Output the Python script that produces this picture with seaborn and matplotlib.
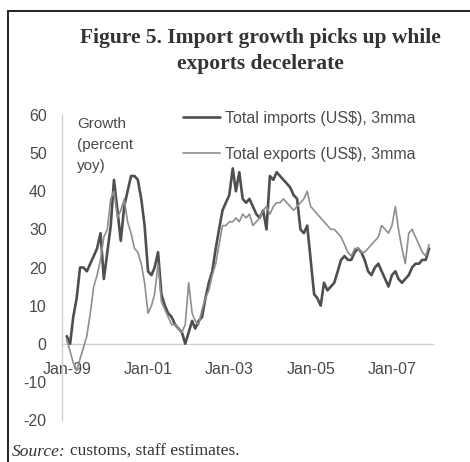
import matplotlib
matplotlib.use("Agg")
import matplotlib.pyplot as plt
from matplotlib.patches import Rectangle
import numpy as np
import pandas as pd
import seaborn as sns

# Monthly year-on-year growth, 3-month moving averages, Jan-1999 .. Dec-2007
imports_growth = [
    2, 0, 7, 12, 20, 20, 19, 21, 23, 25, 29, 17,
    24, 31, 43, 35, 27, 36, 40, 44, 44, 43, 38, 31,
    19, 18, 20, 24, 13, 10, 8, 7, 5, 4, 3, 0,
    3, 6, 4, 6, 7, 12, 16, 19, 25, 30, 35, 37,
    39, 46, 40, 45, 38, 37, 38, 36, 34, 33, 35, 30,
    44, 43, 45, 44, 43, 42, 41, 39, 38, 30, 29, 31,
    22, 13, 12, 10, 16, 14, 15, 16, 19, 22, 23, 22,
    22, 24, 25, 24, 22, 19, 18, 20, 21, 19, 17, 15,
    18, 19, 17, 16, 17, 18, 20, 21, 21, 22, 22, 25,
]
exports_growth = [
    1, -2, -5, -7, -4, -1, 2, 8, 15, 18, 22, 28,
    30, 38, 40, 33, 35, 38, 32, 29, 25, 24, 21, 16,
    8, 10, 13, 21, 11, 9, 7, 5, 5, 4, 3, 5,
    16, 8, 6, 5, 9, 12, 14, 18, 21, 26, 31, 31,
    32, 32, 33, 32, 34, 33, 34, 31, 32, 33, 35, 36,
    34, 36, 37, 37, 38, 37, 36, 35, 36, 37, 38, 40,
    36, 35, 34, 33, 32, 31, 30, 30, 29, 28, 26, 24,
    23, 25, 25, 24, 24, 25, 26, 27, 28, 31, 30, 29,
    31, 36, 30, 25, 21, 29, 30, 28, 26, 24, 23, 26,
]
months = pd.date_range("1999-01-01", periods=len(imports_growth), freq="MS")

tick_dates = pd.to_datetime(["1999-01-01", "2001-01-01", "2003-01-01",
                             "2005-01-01", "2007-01-01"])
tick_labels = ["Jan-99", "Jan-01", "Jan-03", "Jan-05", "Jan-07"]
y_ticks = [-20, -10, 0, 10, 20, 30, 40, 50, 60]

series_names = ["Total imports (US$), 3mma", "Total exports (US$), 3mma"]

df = pd.DataFrame({
    "month": np.concatenate([months, months]),
    "growth": imports_growth + exports_growth,
    "series": [series_names[0]] * len(months) + [series_names[1]] * len(months),
})

sns.set_style("white")
plt.rcParams["font.family"] = ["Liberation Sans", "DejaVu Sans"]

fig = plt.figure(figsize=(4.70, 4.62), dpi=100)
ax = fig.add_axes([62 / 470, 1 - 420 / 462, (433 - 62) / 470, (420 - 115) / 462])

text_col = "#4a4a4a"
imp_col = "#4f4f4f"
exp_col = "#8e8e8e"

sns.lineplot(data=df[df.series == series_names[0]], x="month", y="growth",
             color=imp_col, linewidth=1.9, ax=ax, label=series_names[0])
sns.lineplot(data=df[df.series == series_names[1]], x="month", y="growth",
             color=exp_col, linewidth=1.2, ax=ax, label=series_names[1])

ax.set_xlim(pd.Timestamp("1998-11-20"), pd.Timestamp("2008-01-05"))
ax.set_ylim(-20, 60)
ax.set_yticks(y_ticks)
ax.set_yticklabels([str(v) for v in y_ticks])
ax.set_xticks(tick_dates)
ax.set_xticklabels(tick_labels)
ax.set_xlabel("")
ax.set_ylabel("")

for s in ["top", "right"]:
    ax.spines[s].set_visible(False)
ax.spines["bottom"].set_position(("data", 0))
for s in ["bottom", "left"]:
    ax.spines[s].set_color("#d0d0d0")
    ax.spines[s].set_linewidth(1.0)
ax.spines["bottom"].set_zorder(0)

ax.tick_params(axis="x", length=3, color="#d0d0d0", pad=12,
               labelsize=11.5, labelcolor=text_col, direction="inout")
ax.tick_params(axis="y", length=3, color="#d0d0d0", pad=8,
               labelsize=11.5, labelcolor=text_col, direction="out")
ax.patch.set_alpha(0)

fig.text(77 / 470, 1 - 117 / 462, "Growth\n(percent\nyoy)", ha="left", va="top",
         fontsize=11, color=text_col, linespacing=1.65)

ax.get_legend().remove()
handles, labels = ax.get_legend_handles_labels()
fig.legend(handles, labels, loc="upper left",
           bbox_to_anchor=(183 / 470, 1 - 111 / 462),
           frameon=False, fontsize=11.5, labelcolor=text_col,
           handlelength=2.3, handletextpad=0.35, labelspacing=1.3,
           borderpad=0, borderaxespad=0)

title_font = ["Liberation Serif", "DejaVu Serif"]
for ypix, line in [(38, "Figure 5. Import growth picks up while"),
                   (64, "exports decelerate")]:
    fig.text(260 / 470, 1 - ypix / 462, line, ha="center", va="center",
             fontsize=15.5, fontweight="bold", family=title_font,
             color="#333333")

renderer = fig.canvas.get_renderer()
src = fig.text(12 / 470, 1 - 452 / 462, "Source:", ha="left", va="center",
               fontsize=12.5, style="italic", family=title_font, color="#333333")
bb = src.get_window_extent(renderer)
fig.text(bb.x1 / fig.bbox.width + 4 / 470, 1 - 452 / 462,
         "customs, staff estimates.", ha="left", va="center",
         fontsize=12.5, family=title_font, color="#333333")

# outer frame around the exhibit
fig.patches.append(Rectangle((8 / 470, -0.05), 1.2, 1 - 11 / 462 + 0.05,
                             transform=fig.transFigure, fill=False,
                             edgecolor="#222222", linewidth=1.4))

fig.savefig("out.png", dpi=100)
